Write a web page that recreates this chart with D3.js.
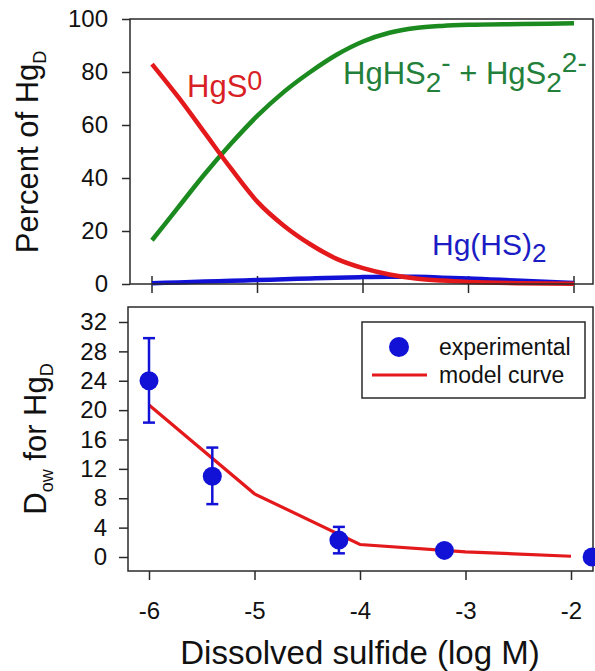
<!DOCTYPE html>
<html>
<head>
<meta charset="utf-8">
<script src="https://cdn.jsdelivr.net/npm/d3@7"></script>
<style>
  body { margin: 0; background: #fff; }
  svg { display: block; font-family: "Liberation Sans", Arial, sans-serif; }
</style>
</head>
<body>
<div id="chart"></div>
<script>
// Top panel: speciation (percent of HgD) vs dissolved sulfide
const logS = [-6, -5.75, -5.5, -5.25, -5, -4.75, -4.5, -4.25, -4, -3.75, -3.5, -3.25, -3, -2.5, -2];
const hgS0 = [83, 70.5, 57, 43.5, 31, 22, 15, 9.5, 6, 3.6, 2.1, 1.3, 0.8, 0.3, 0.1];
const hgHS2 = [16.5, 29, 41.5, 53, 63.5, 72.5, 80, 86.5, 91.5, 94.8, 96.6, 97.4, 97.8, 98.1, 98.4];
const hgHS2neutral = [0.3, 0.6, 0.9, 1.2, 1.5, 1.8, 2.1, 2.4, 2.6, 2.7, 2.7, 2.4, 2.1, 1.2, 0.4];
const pctTicks = [0, 20, 40, 60, 80, 100];

// Bottom panel: Dow for HgD
const expX = [-6, -5.4, -4.2, -3.2, -1.8];
const expY = [24, 11, 2.3, 0.9, 0];
const expLo = [18.3, 7.2, 0.5, null, null];
const expHi = [29.8, 14.9, 4.1, null, null];
const modelX = [-6, -5, -4, -3, -2];
const modelY = [20.7, 8.6, 1.7, 0.7, 0.1];
const dowTicks = [0, 4, 8, 12, 16, 20, 24, 28, 32];
const xTicks = [-6, -5, -4, -3, -2];

const RED = '#e3191c';
const GREEN = '#1b8a1f';
const BLUE = '#1212d6';
const FRAME = '#2a2a2a';
const FONT = '"Liberation Sans", Arial, sans-serif';

const svg = d3.select('#chart')
  .append('svg')
  .attr('width', 595)
  .attr('height', 671);

svg.append('rect').attr('width', 595).attr('height', 671).attr('fill', '#fff');

// ---------- top panel ----------
const xTop = d3.scaleLinear().domain([-6, -2]).range([152, 574]);
const yTop = d3.scaleLinear().domain([0, 100]).range([284, 19]);

const topPanel = svg.append('g');

topPanel.append('g')
  .attr('transform', 'translate(130,0)')
  .call(d3.axisLeft(yTop).tickValues(pctTicks).tickSize(8).tickPadding(14))
  .call(g => g.select('.domain').remove())
  .call(g => g.selectAll('line').attr('stroke', FRAME).attr('stroke-width', 1.5))
  .call(g => g.selectAll('text').attr('font-size', 24).attr('fill', '#111').attr('font-family', FONT));

// ticks crossing the bottom border
topPanel.append('g')
  .selectAll('line')
  .data(xTicks)
  .join('line')
  .attr('x1', d => xTop(d))
  .attr('x2', d => xTop(d))
  .attr('y1', 276)
  .attr('y2', 293)
  .attr('stroke', FRAME)
  .attr('stroke-width', 1.5);

const lineTop = d3.line()
  .x((d, i) => xTop(logS[i]))
  .y(d => yTop(d))
  .curve(d3.curveMonotoneX);

topPanel.append('path').datum(hgHS2neutral)
  .attr('fill', 'none').attr('stroke', BLUE).attr('stroke-width', 4.5).attr('d', lineTop);
topPanel.append('path').datum(hgHS2)
  .attr('fill', 'none').attr('stroke', GREEN).attr('stroke-width', 4.5).attr('d', lineTop);
topPanel.append('path').datum(hgS0)
  .attr('fill', 'none').attr('stroke', RED).attr('stroke-width', 4.5).attr('d', lineTop);

topPanel.append('rect')
  .attr('x', 130).attr('y', 19).attr('width', 463).attr('height', 265)
  .attr('fill', 'none').attr('stroke', FRAME).attr('stroke-width', 1.5);

// species labels
const hgsLabel = topPanel.append('text').attr('x', 187).attr('y', 97)
  .attr('fill', '#d91f26').attr('font-size', 31);
hgsLabel.append('tspan').text('HgS');
hgsLabel.append('tspan').attr('font-size', 27).attr('dy', -7).text('0');

const greenLabel = topPanel.append('text').attr('x', 343).attr('y', 84)
  .attr('fill', '#23803a').attr('font-size', 31);
greenLabel.append('tspan').text('HgHS');
greenLabel.append('tspan').attr('font-size', 28).attr('dy', 8).text('2');
greenLabel.append('tspan').attr('font-size', 28).attr('dy', -20).text('-');
greenLabel.append('tspan').attr('dy', 12).text(' + HgS');
greenLabel.append('tspan').attr('font-size', 28).attr('dy', 8).text('2');
greenLabel.append('tspan').attr('font-size', 28).attr('dy', -20).text('2-');

const blueLabel = topPanel.append('text').attr('x', 432).attr('y', 255)
  .attr('fill', '#1c1cc4').attr('font-size', 30);
blueLabel.append('tspan').text('Hg(HS)');
blueLabel.append('tspan').attr('font-size', 26).attr('dy', 7).text('2');

const yLabTop = topPanel.append('text')
  .attr('transform', 'translate(38,152) rotate(-90)')
  .attr('text-anchor', 'middle')
  .attr('font-size', 31)
  .attr('fill', '#111');
yLabTop.append('tspan').text('Percent of Hg');
yLabTop.append('tspan').attr('font-size', 18).attr('dy', 8).text('D');

// ---------- bottom panel ----------
const xBot = d3.scaleLinear().domain([-6, -2]).range([149, 571]);
const yBot = d3.scaleLinear().domain([0, 32]).range([557, 322]);

const botPanel = svg.append('g');

botPanel.append('g')
  .attr('transform', 'translate(128,0)')
  .call(d3.axisLeft(yBot).tickValues(dowTicks).tickSize(9).tickPadding(12))
  .call(g => g.select('.domain').remove())
  .call(g => g.selectAll('line').attr('stroke', FRAME).attr('stroke-width', 1.5))
  .call(g => g.selectAll('text').attr('font-size', 24).attr('fill', '#111').attr('font-family', FONT));

botPanel.append('g')
  .attr('transform', 'translate(0,571)')
  .call(d3.axisBottom(xBot).tickValues(xTicks).tickFormat(d => String(d)).tickSize(9).tickPadding(22))
  .call(g => g.select('.domain').remove())
  .call(g => g.selectAll('line').attr('stroke', FRAME).attr('stroke-width', 1.5))
  .call(g => g.selectAll('text').attr('font-size', 24).attr('fill', '#111').attr('font-family', FONT));

const modelLine = d3.line()
  .x((d, i) => xBot(modelX[i]))
  .y(d => yBot(d));

botPanel.append('path').datum(modelY)
  .attr('fill', 'none').attr('stroke', RED).attr('stroke-width', 3.2).attr('d', modelLine);

botPanel.append('rect')
  .attr('x', 128).attr('y', 307).attr('width', 465).attr('height', 264)
  .attr('fill', 'none').attr('stroke', FRAME).attr('stroke-width', 1.5);

// error bars
const bars = expX.map((x, i) => ({ x, lo: expLo[i], hi: expHi[i] })).filter(d => d.lo !== null);
const eb = botPanel.append('g').attr('stroke', BLUE).attr('stroke-width', 2.5);
eb.selectAll('.stem').data(bars).join('line').attr('class', 'stem')
  .attr('x1', d => xBot(d.x)).attr('x2', d => xBot(d.x))
  .attr('y1', d => yBot(d.lo)).attr('y2', d => yBot(d.hi));
eb.selectAll('.capHi').data(bars).join('line').attr('class', 'capHi')
  .attr('x1', d => xBot(d.x) - 6).attr('x2', d => xBot(d.x) + 6)
  .attr('y1', d => yBot(d.hi)).attr('y2', d => yBot(d.hi));
eb.selectAll('.capLo').data(bars).join('line').attr('class', 'capLo')
  .attr('x1', d => xBot(d.x) - 6).attr('x2', d => xBot(d.x) + 6)
  .attr('y1', d => yBot(d.lo)).attr('y2', d => yBot(d.lo));

botPanel.append('g')
  .selectAll('circle')
  .data(expY)
  .join('circle')
  .attr('cx', (d, i) => xBot(expX[i]))
  .attr('cy', d => yBot(d))
  .attr('r', 9.5)
  .attr('fill', BLUE);

// legend
const legend = botPanel.append('g');
legend.append('rect')
  .attr('x', 362).attr('y', 322).attr('width', 223).attr('height', 76)
  .attr('fill', '#fff').attr('stroke', FRAME).attr('stroke-width', 1.5);
legend.append('circle').attr('cx', 399).attr('cy', 347).attr('r', 10).attr('fill', BLUE);
legend.append('line').attr('x1', 372).attr('x2', 427).attr('y1', 375).attr('y2', 375)
  .attr('stroke', RED).attr('stroke-width', 3.2);
legend.append('text').attr('x', 439).attr('y', 355).attr('font-size', 23).attr('fill', '#111')
  .text('experimental');
legend.append('text').attr('x', 439).attr('y', 383).attr('font-size', 23).attr('fill', '#111')
  .text('model curve');

const yLabBot = botPanel.append('text')
  .attr('transform', 'translate(46,439) rotate(-90)')
  .attr('text-anchor', 'middle')
  .attr('font-size', 31)
  .attr('fill', '#111');
yLabBot.append('tspan').text('D');
yLabBot.append('tspan').attr('font-size', 18).attr('dy', 7).text('ow');
yLabBot.append('tspan').attr('dy', -7).text(' for Hg');
yLabBot.append('tspan').attr('font-size', 18).attr('dy', 7).text('D');

svg.append('text')
  .attr('x', 360).attr('y', 664)
  .attr('text-anchor', 'middle')
  .attr('font-size', 33)
  .attr('fill', '#111')
  .text('Dissolved sulfide (log M)');
</script>
</body>
</html>
